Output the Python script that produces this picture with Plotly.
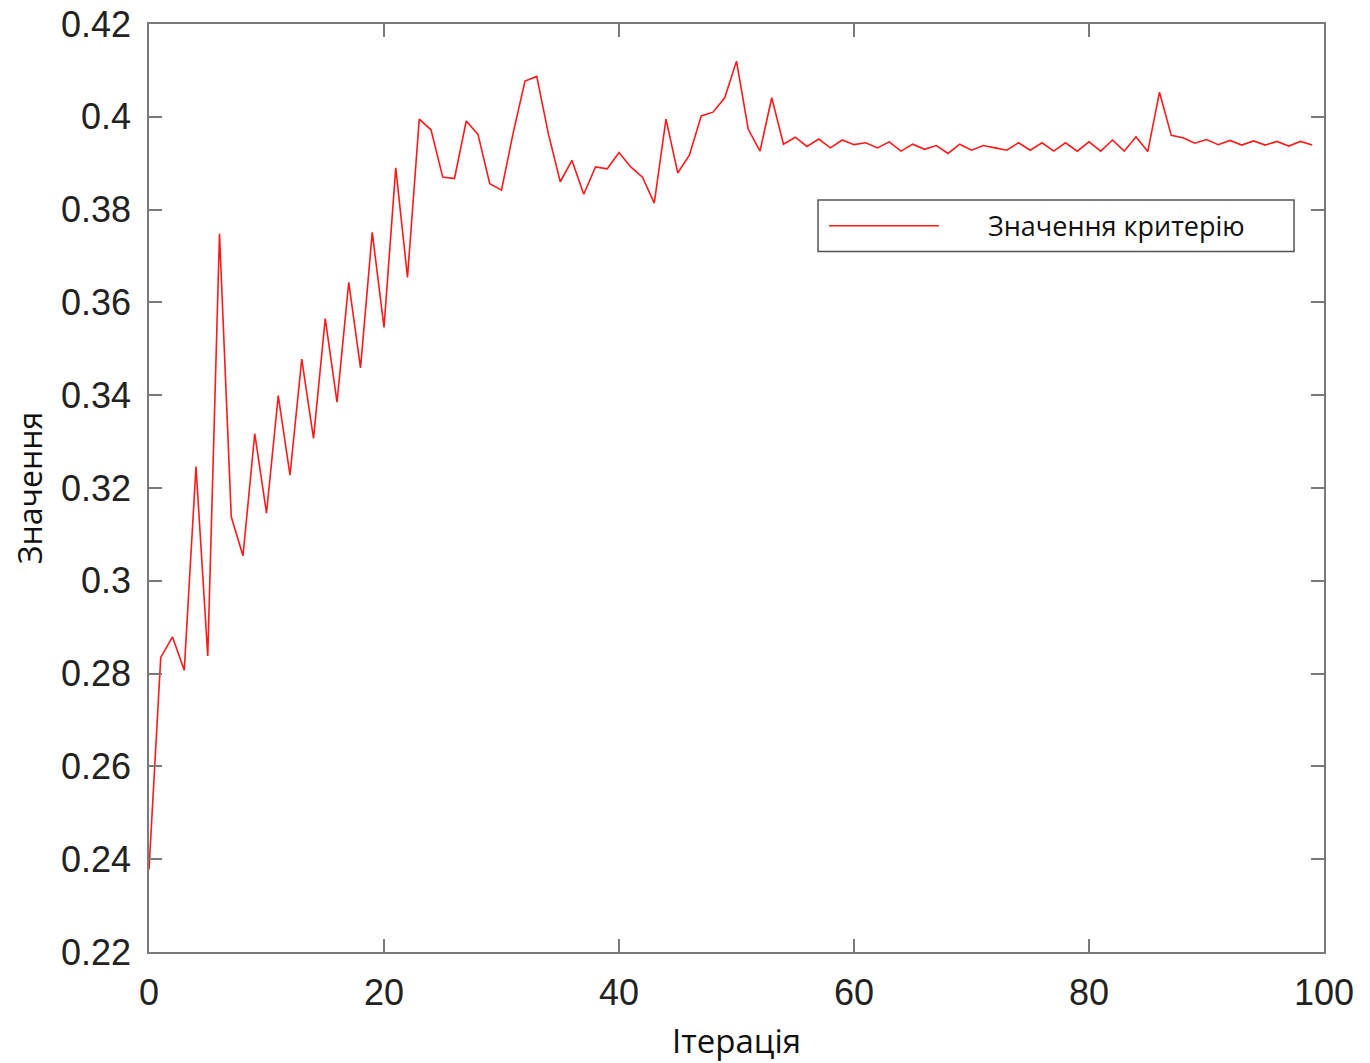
import plotly.graph_objects as go

iterations = list(range(100))
criterion = [
    0.2378, 0.2835, 0.2879, 0.2807, 0.3246, 0.2838, 0.3748, 0.3138, 0.3054, 0.3317,
    0.3146, 0.3399, 0.3228, 0.3478, 0.3307, 0.3565, 0.3385, 0.3643, 0.3459, 0.3751,
    0.3546, 0.3890, 0.3654, 0.3995, 0.3972, 0.3870, 0.3867, 0.3991, 0.3962, 0.3856,
    0.3842, 0.3966, 0.4077, 0.4087, 0.3962, 0.3860, 0.3906, 0.3833, 0.3892, 0.3888,
    0.3923, 0.3892, 0.3870, 0.3814, 0.3995, 0.3879, 0.3918, 0.4002, 0.4010, 0.4041,
    0.4120, 0.3973, 0.3926, 0.4041, 0.3941, 0.3956, 0.3936, 0.3952, 0.3933, 0.3950,
    0.3940, 0.3944, 0.3933, 0.3946, 0.3926, 0.3941, 0.3930, 0.3938, 0.3921, 0.3941,
    0.3928, 0.3938, 0.3933, 0.3928, 0.3944, 0.3928, 0.3944, 0.3926, 0.3944, 0.3926,
    0.3946, 0.3926, 0.3950, 0.3926, 0.3957, 0.3925, 0.4053, 0.3960, 0.3955, 0.3943,
    0.3951, 0.3940, 0.3949, 0.3939, 0.3948, 0.3939, 0.3947, 0.3937, 0.3947, 0.3939,
]
series_name = "Значення критерію"
x_title = "Ітерація"
y_title = "Значення"
x_tickvals = [0, 20, 40, 60, 80, 100]
x_ticktext = ["0", "20", "40", "60", "80", "100"]
y_tickvals = [0.22, 0.24, 0.26, 0.28, 0.30, 0.32, 0.34, 0.36, 0.38, 0.40, 0.42]
y_ticktext = ["0.22", "0.24", "0.26", "0.28", "0.3", "0.32", "0.34", "0.36", "0.38", "0.4", "0.42"]

RED = "#ff1a1a"
AXIS = "#7a7a7a"
TICKFONT = dict(family="Liberation Sans, Arial, sans-serif", size=36, color="#222222")
TEXT_FAMILY = "Open Sans, Noto Sans, sans-serif"

fig = go.Figure()
fig.add_trace(go.Scatter(
    x=iterations, y=criterion, mode="lines", name=series_name,
    line=dict(color=RED, width=1.6), showlegend=False,
))

axis_common = dict(
    showgrid=False, zeroline=False, showline=True, linecolor=AXIS, linewidth=1.5,
    mirror="ticks", ticks="inside", ticklen=13, tickwidth=1.5, tickcolor=AXIS,
    tickfont=TICKFONT, automargin=False, ticklabeloverflow="allow",
)
fig.update_xaxes(
    range=[0, 100], tickmode="array", tickvals=x_tickvals, ticktext=x_ticktext,
    title=dict(text=x_title, font=dict(family=TEXT_FAMILY, size=33, color="#111111"), standoff=25),
    ticklabelstandoff=8, **axis_common,
)
fig.update_yaxes(
    range=[0.22, 0.42], tickmode="array", tickvals=y_tickvals, ticktext=y_ticktext,
    title=dict(text=y_title, font=dict(family=TEXT_FAMILY, size=32, color="#111111"), standoff=17),
    ticklabelstandoff=9, **axis_common,
)

# legend box (drawn in paper coordinates)
lx0, lx1, ly0, ly1 = 0.5694, 0.9745, 0.7549, 0.8103
fig.add_shape(type="rect", xref="paper", yref="paper", x0=lx0, x1=lx1, y0=ly0, y1=ly1,
              line=dict(color="#555555", width=1.5), fillcolor="white", layer="above")
ymid = (ly0 + ly1) / 2
fig.add_shape(type="line", xref="paper", yref="paper", x0=0.5787, x1=0.6723, y0=ymid, y1=ymid,
              line=dict(color=RED, width=1.6), layer="above")
fig.add_annotation(xref="paper", yref="paper", x=0.7123, y=ymid, xanchor="left", yanchor="middle",
                   text=series_name, showarrow=False,
                   font=dict(family=TEXT_FAMILY, size=27, color="#111111"))

fig.update_layout(
    width=1362, height=1055,
    margin=dict(l=141, r=46, t=16, b=111),
    plot_bgcolor="white", paper_bgcolor="white",
)
fig.write_html("out.html")
